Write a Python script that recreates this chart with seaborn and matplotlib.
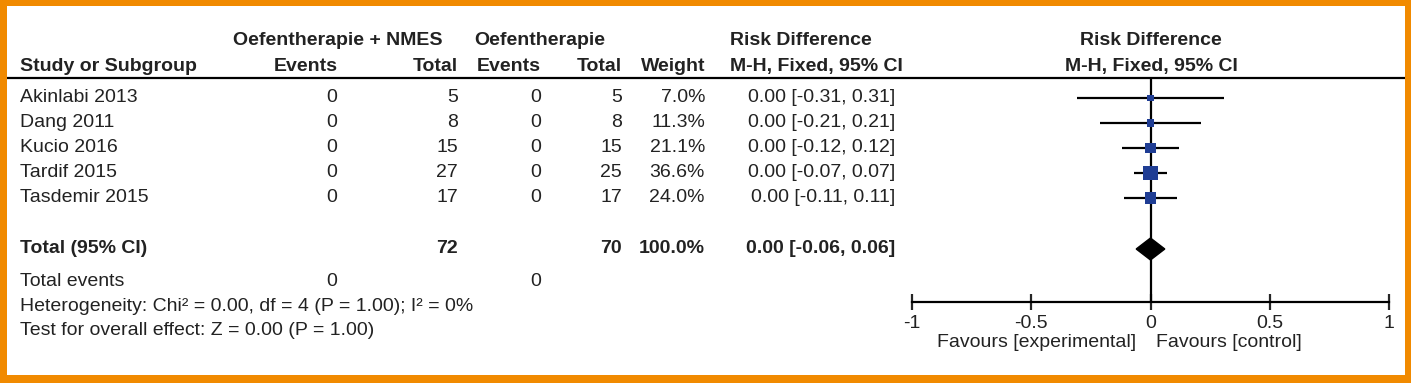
import matplotlib
matplotlib.use("Agg")
import matplotlib.pyplot as plt
import pandas as pd
import seaborn as sns

# study rows
studies = ["Akinlabi 2013", "Dang 2011", "Kucio 2016", "Tardif 2015", "Tasdemir 2015"]
exp_events = [0, 0, 0, 0, 0]
exp_total = [5, 8, 15, 27, 17]
ctl_events = [0, 0, 0, 0, 0]
ctl_total = [5, 8, 15, 25, 17]
weights = [7.0, 11.3, 21.1, 36.6, 24.0]
rd = [0.00, 0.00, 0.00, 0.00, 0.00]
ci_lo = [-0.31, -0.21, -0.12, -0.07, -0.11]
ci_hi = [0.31, 0.21, 0.12, 0.07, 0.11]

# pooled
total_rd = 0.00
total_lo = -0.06
total_hi = 0.06
total_exp = 72
total_ctl = 70
total_exp_events = 0
total_ctl_events = 0

heterogeneity = "Heterogeneity: Chi\u00b2 = 0.00, df = 4 (P = 1.00); I\u00b2 = 0%"
overall = "Test for overall effect: Z = 0.00 (P = 1.00)"
xticks = [-1, -0.5, 0, 0.5, 1]
xticklabels = ["-1", "-0.5", "0", "0.5", "1"]

sns.set_theme(style="white")
plt.rcParams['font.family'] = ['Liberation Sans', 'DejaVu Sans']
FS = 14
TXT = "#222222"
BLUE = "#1f3d94"
ORANGE = "#f18a00"

W, H = 1411, 383
fig = plt.figure(figsize=(W / 100, H / 100), dpi=100, facecolor=ORANGE)

# background axes in pixel coords (inside the orange frame)
L, T, R, B = 7, 6, 1405, 375
bg = fig.add_axes([L / W, 1 - B / H, (R - L) / W, (B - T) / H])
bg.set_xlim(L, R)
bg.set_ylim(B, T)
bg.set_facecolor("white")
for s in bg.spines.values():
    s.set_visible(False)
bg.set_xticks([])
bg.set_yticks([])

def txt(x, y, s, ha="left", bold=False):
    bg.text(x, y, s, ha=ha, va="center", fontsize=FS, color=TXT,
            fontweight="bold" if bold else "normal")

# header
txt(338, 41, "Oefentherapie + NMES", ha="center", bold=True)
txt(474, 41, "Oefentherapie", bold=True)
txt(730, 41, "Risk Difference", bold=True)
txt(1151, 41, "Risk Difference", ha="center", bold=True)
txt(20, 67, "Study or Subgroup", bold=True)
txt(338, 67, "Events", ha="right", bold=True)
txt(458, 67, "Total", ha="right", bold=True)
txt(541, 67, "Events", ha="right", bold=True)
txt(622, 67, "Total", ha="right", bold=True)
txt(705, 67, "Weight", ha="right", bold=True)
txt(730, 67, "M-H, Fixed, 95% CI", bold=True)
txt(1151, 67, "M-H, Fixed, 95% CI", ha="center", bold=True)
bg.hlines(78, L, R, color="black", lw=1.6)

row_y = [98 + 25 * i for i in range(len(studies))]
for i, name in enumerate(studies):
    y = row_y[i]
    txt(20, y, name)
    txt(337, y, str(exp_events[i]), ha="right")
    txt(458, y, str(exp_total[i]), ha="right")
    txt(541, y, str(ctl_events[i]), ha="right")
    txt(622, y, str(ctl_total[i]), ha="right")
    txt(705, y, f"{weights[i]:.1f}%", ha="right")
    txt(895, y, f"{rd[i]:.2f} [{ci_lo[i]:.2f}, {ci_hi[i]:.2f}]", ha="right")

ty = 249
txt(20, ty, "Total (95% CI)", bold=True)
txt(458, ty, str(total_exp), ha="right", bold=True)
txt(622, ty, str(total_ctl), ha="right", bold=True)
txt(705, ty, f"{sum(weights):.1f}%", ha="right", bold=True)
txt(895, ty, f"{total_rd:.2f} [{total_lo:.2f}, {total_hi:.2f}]", ha="right", bold=True)
txt(20, 282, "Total events")
txt(337, 282, str(total_exp_events), ha="right")
txt(541, 282, str(total_ctl_events), ha="right")
txt(20, 307, heterogeneity)
txt(20, 331, overall)

# forest panel
x0, x1, ytop, ybot = 912, 1389, 78, 302
ax = fig.add_axes([x0 / W, 1 - ybot / H, (x1 - x0) / W, (ybot - ytop) / H])
ax.patch.set_alpha(0)
df = pd.DataFrame({"rd": rd, "y": row_y, "weight": weights})
ax.hlines(row_y, ci_lo, ci_hi, color="black", lw=1.6, zorder=2)
sns.scatterplot(data=df, x="rd", y="y", size="weight",
                sizes=(2.8 * min(weights), 2.8 * max(weights)),
                marker="s", color=BLUE, linewidth=0, legend=False,
                ax=ax, zorder=3)
ax.fill([total_lo, total_rd, total_hi, total_rd],
        [ty, ty - 11, ty, ty + 11], color="black", zorder=3)
ax.axvline(0, color="black", lw=1.6, zorder=1)
ax.set_xlim(-1, 1)
ax.set_ylim(ybot, ytop)
for s in ["top", "left", "right"]:
    ax.spines[s].set_visible(False)
ax.spines["bottom"].set_color("black")
ax.spines["bottom"].set_linewidth(1.6)
ax.set_yticks([])
ax.set_xticks(xticks)
ax.set_xticklabels(xticklabels)
ax.tick_params(axis="x", direction="inout", length=12, width=1.6,
               labelsize=FS, labelcolor=TXT, pad=3, bottom=True)
ax.set_xlabel("")
ax.set_ylabel("")

txt(1136, 343, "Favours [experimental]", ha="right")
txt(1156, 343, "Favours [control]")

fig.savefig("out.png", dpi=100, facecolor=ORANGE)
